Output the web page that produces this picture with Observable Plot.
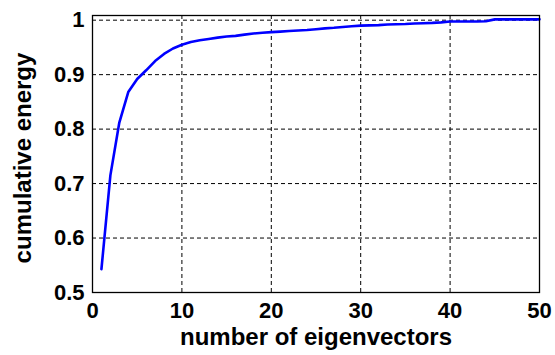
<!DOCTYPE html>
<html>
<head>
<meta charset="utf-8">
<script src="https://cdn.jsdelivr.net/npm/d3@7"></script>
<script src="https://cdn.jsdelivr.net/npm/@observablehq/plot@0.6"></script>
<style>
  html, body { margin: 0; padding: 0; background: #ffffff; }
  #chart { width: 555px; height: 355px; }
</style>
</head>
<body>
<div id="chart"></div>
<script>
const nEigenvectors = [1,2,3,4,5,6,7,8,9,10,11,12,13,14,15,16,17,18,19,20,21,22,23,24,25,26,27,28,29,30,31,32,33,34,35,36,37,38,39,40,41,42,43,44,45,46,47,48,49,50];
const cumulativeEnergy = [
  0.543, 0.715, 0.812, 0.868, 0.892, 0.908, 0.925, 0.938, 0.948, 0.955,
  0.960, 0.963, 0.9655, 0.968, 0.970, 0.9712, 0.9735, 0.9755, 0.977, 0.978,
  0.979, 0.980, 0.981, 0.982, 0.9835, 0.985, 0.986, 0.9875, 0.989, 0.990,
  0.9905, 0.991, 0.992, 0.9925, 0.993, 0.994, 0.9945, 0.995, 0.996, 0.9975,
  0.9975, 0.9975, 0.9975, 0.998, 1.0015, 1.0015, 1.0015, 1.0015, 1.0015, 1.0015
];
const xTicks = [0, 10, 20, 30, 40, 50];
const xTickLabels = ["0", "10", "20", "30", "40", "50"];
const yTicks = [0.5, 0.6, 0.7, 0.8, 0.9, 1];
const yTickLabels = ["0.5", "0.6", "0.7", "0.8", "0.9", "1"];
const xTitle = "number of eigenvectors";
const yTitle = "cumulative energy";

const data = nEigenvectors.map((n, i) => ({n, e: cumulativeEnergy[i]}));
const font = "'Liberation Sans', Arial, Helvetica, sans-serif";

const chart = Plot.plot({
  width: 555,
  height: 355,
  marginLeft: 92,
  marginRight: 16,
  marginTop: 15,
  marginBottom: 63,
  style: {fontFamily: font, fontWeight: "bold", fontSize: "22px", background: "#ffffff", color: "#000000"},
  x: {domain: [0, 50], ticks: xTicks},
  y: {domain: [0.5, 1.0086], ticks: yTicks},
  marks: [
    Plot.gridX(xTicks, {stroke: "#000", strokeOpacity: 1, strokeWidth: 1, strokeDasharray: "4,3"}),
    Plot.gridY(yTicks, {stroke: "#000", strokeOpacity: 1, strokeWidth: 1, strokeDasharray: "4,3"}),
    Plot.axisX(xTicks, {tickSize: 0, tickPadding: 10, fontSize: 22, fontWeight: "bold", fill: "#000",
      tickFormat: (d) => xTickLabels[xTicks.indexOf(d)], label: null}),
    Plot.axisY(yTicks, {tickSize: 0, tickPadding: 8, fontSize: 22, fontWeight: "bold", fill: "#000",
      tickFormat: (d) => yTickLabels[yTicks.indexOf(d)], label: null}),
    Plot.line(data, {x: "n", y: "e", stroke: "#0000ff", strokeWidth: 2.6}),
    Plot.frame({stroke: "#000", strokeWidth: 1.3}),
    Plot.text([xTitle], {frameAnchor: "bottom", lineAnchor: "middle", textAnchor: "middle", dy: 45, fontSize: 24, fontWeight: "bold", fill: "#000", text: (d) => d}),
    Plot.text([yTitle], {frameAnchor: "left", lineAnchor: "middle", textAnchor: "middle", dx: -68.7, dy: 4, rotate: -90, fontSize: 24, fontWeight: "bold", fill: "#000", text: (d) => d})
  ]
});
document.getElementById("chart").appendChild(chart);
</script>
</body>
</html>
